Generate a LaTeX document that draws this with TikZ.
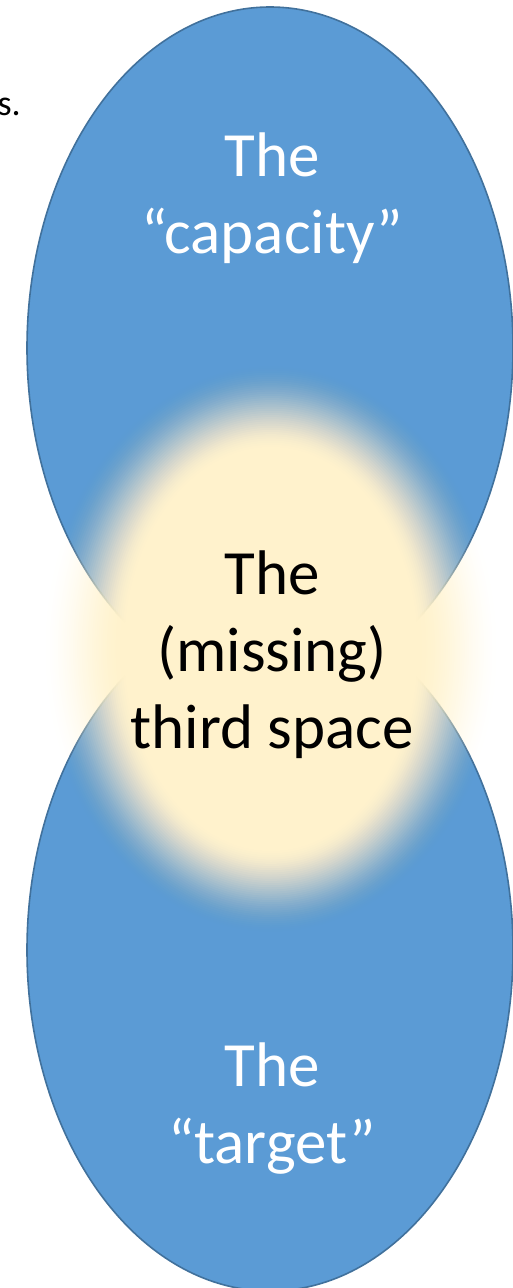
\documentclass[tikz,border=0pt]{standalone}
\usepackage{fontspec}
\setmainfont{Carlito}
\definecolor{ellfill}{HTML}{5B9BD5}
\definecolor{elldraw}{HTML}{41719C}
\definecolor{glowc}{HTML}{FFF2CC}
\begin{document}
\begin{tikzpicture}[x=1pt,y=-1pt,
  blob/.style={fill=ellfill,draw=elldraw,line width=1.6pt},
  bigtext/.style={anchor=base,inner sep=0pt,font=\fontsize{63}{77}\selectfont},
  wtext/.style={bigtext,text=white},
  ktext/.style={bigtext,text=black}]
\useasboundingbox (0,0) rectangle (512,1288);
% two ellipses
\path[blob] (270,348) ellipse [x radius=243pt, y radius=341pt];
\path[blob] (270,950) ellipse [x radius=243pt, y radius=341pt];
% soft-edged glow
\foreach \k in {0,...,39}{
  \pgfmathsetmacro{\ta}{\k/40}
  \pgfmathsetmacro{\tb}{(\k+1)/40}
  \pgfmathsetmacro{\ca}{3*\ta*\ta-2*\ta*\ta*\ta}
  \pgfmathsetmacro{\cb}{3*\tb*\tb-2*\tb*\tb*\tb}
  \pgfmathsetmacro{\al}{(\cb-\ca)/(1-\ca)}
  \pgfmathsetmacro{\ax}{145+85*(40-\k)/40}
  \pgfmathsetmacro{\ay}{200+85*(40-\k)/40}
  \fill[glowc, fill opacity=\al] (271,649) ellipse [x radius=\ax pt, y radius=\ay pt];
}
% texts
\node[anchor=base east,inner sep=0pt,font=\fontsize{36}{43}\selectfont] (frag) at (21,115) {s.};
\node[wtext] (cap1) at (272,176) {The};
\node[wtext] (cap2) at (272,253) {“capacity”};
\node[ktext] (mid1) at (272,594) {The};
\node[ktext] (mid2) at (272,671) {(missing)};
\node[ktext] (mid3) at (272,748) {third space};
\node[wtext] (tgt1) at (272,1086) {The};
\node[wtext] (tgt2) at (272,1163) {“target”};
\end{tikzpicture}
\end{document}
